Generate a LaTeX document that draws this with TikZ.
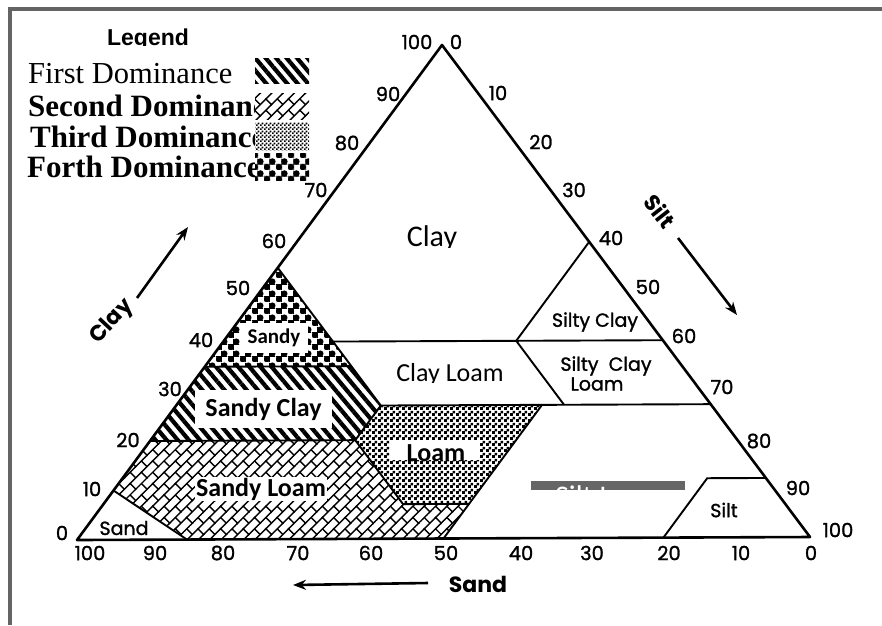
\documentclass[tikz,border=0pt]{standalone}
\usepackage{fontspec}
\setmainfont{Liberation Serif}
\newfontfamily\carlito{Carlito}
\newfontfamily\pop{Poppins}
\newfontfamily\popb{Poppins}[FakeBold=1.3]
\newfontfamily\lsans{Liberation Sans}
\usetikzlibrary{patterns,patterns.meta,arrows.meta}
\definecolor{framegray}{RGB}{100,100,100}
\definecolor{bargray}{RGB}{102,102,102}

\tikzdeclarepattern{
  name=brickpat, type=uncolored,
  bounding box={(-1pt,-1pt) and (17pt,17pt)},
  tile size={(16pt,16pt)},
  tile transformation={rotate=45},
  code={
    \draw[line width=1.4pt] (-1pt,0pt) -- (17pt,0pt);
    \draw[line width=1.4pt] (-1pt,8pt) -- (17pt,8pt);
    \draw[line width=1.4pt] (0pt,0pt) -- (0pt,8pt);
    \draw[line width=1.4pt] (8pt,8pt) -- (8pt,16pt);
  }
}
\tikzdeclarepattern{
  name=checkpat, type=uncolored,
  bounding box={(0pt,0pt) and (6pt,6pt)},
  tile size={(6pt,6pt)},
  code={\fill (0pt,0pt) rectangle (3.2pt,3.2pt); \fill (3pt,3pt) rectangle (6pt,6pt);}
}
\tikzdeclarepattern{
  name=finecheckpat, type=uncolored,
  bounding box={(0pt,0pt) and (4pt,4pt)},
  tile size={(4pt,4pt)},
  code={\fill (0pt,0pt) rectangle (2pt,2pt); \fill (2pt,2pt) rectangle (4pt,4pt);}
}
\tikzdeclarepattern{
  name=dotpat, type=uncolored,
  bounding box={(0pt,0pt) and (12pt,12pt)},
  tile size={(12pt,12pt)},
  code={\fill (3pt,3pt) circle (3.4pt); \fill (9pt,9pt) circle (3.4pt);
        \draw[line width=0.8pt] (0pt,6pt) -- (12pt,6pt);
        \draw[line width=0.8pt] (6pt,0pt) -- (6pt,12pt);}
}

\begin{document}
\begin{tikzpicture}[x=1pt,y=-1pt,
  tri/.style={line width=2.6pt, line join=round},
  bnd/.style={line width=1.9pt, line join=round},
  num/.style={font=\popb\fontsize{19.5}{19.5}\selectfont, inner sep=0pt},
  rlab/.style={font=\popb\fontsize{19}{19}\selectfont, inner sep=0pt, align=center},
  axlab/.style={font=\pop\bfseries\fontsize{22}{22}\selectfont, inner sep=0pt},
  axarrow/.style={line width=2.6pt, -{Stealth[length=13pt,width=10pt]}},
  boxlab/.style={font=\carlito\bfseries\fontsize{26}{26}\selectfont, fill=white, inner sep=0pt},
  modlab/.style={font=\carlito\fontsize{30}{30}\selectfont, inner sep=0pt},
  legtxt/.style={anchor=base west, inner sep=0pt},
  legbox/.style={fill=white, minimum width=54pt, inner sep=0pt}
]
\useasboundingbox (0,0) rectangle (882,625);
\fill[white] (0,0) rectangle (882,625);

% frame
\draw[framegray, line width=3.3pt] (10,625) -- (10,9) -- (882,9);

% corners
\coordinate (L) at (77,540);
\coordinate (R) at (810,537);
\coordinate (T) at (442,45);
% ternary points: L=sand, R=silt, T=clay
\coordinate (scA) at (barycentric cs:L=.45,R=0,T=.55);
\coordinate (scB) at (barycentric cs:L=.65,R=0,T=.35);
\coordinate (scC) at (barycentric cs:L=.45,R=.2,T=.35);
\coordinate (clA) at (barycentric cs:L=.45,R=.15,T=.4);
\coordinate (clB) at (barycentric cs:L=.45,R=.28,T=.27);
\coordinate (lmA) at (barycentric cs:L=.52,R=.28,T=.2);
\coordinate (slA) at (barycentric cs:L=.8,R=0,T=.2);
\coordinate (lmB) at (barycentric cs:L=.52,R=.41,T=.07);
\coordinate (lmC) at (barycentric cs:L=.43,R=.5,T=.07);
\coordinate (lmD) at (barycentric cs:L=.23,R=.5,T=.27);
\coordinate (sl0) at (barycentric cs:L=.5,R=.5,T=0);
\coordinate (sdA) at (barycentric cs:L=.9,R=0,T=.1);
\coordinate (sdB) at (barycentric cs:L=.85,R=.15,T=0);
\coordinate (syA) at (barycentric cs:L=.2,R=.4,T=.4);
\coordinate (syB) at (barycentric cs:L=0,R=.6,T=.4);
\coordinate (syC) at (barycentric cs:L=0,R=.4,T=.6);
\coordinate (sclA) at (barycentric cs:L=.2,R=.53,T=.27);
\coordinate (sclB) at (barycentric cs:L=0,R=.73,T=.27);
\coordinate (siA) at (barycentric cs:L=.2,R=.8,T=0);
\coordinate (siB) at (barycentric cs:L=.08,R=.8,T=.12);
\coordinate (siC) at (barycentric cs:L=0,R=.88,T=.12);

% patterned regions
\path[pattern=dotpat, pattern color=black] (scA) -- (scB) -- (scC) -- cycle;
\path[pattern={Lines[angle=-50,distance=8.5pt,line width=4.2pt]}, pattern color=black]
  (scB) -- (scC) -- (clB) -- (lmA) -- (slA) -- cycle;
\path[pattern=checkpat, pattern color=black]
  (clB) -- (lmD) -- (lmC) -- (lmB) -- (lmA) -- cycle;
\path[pattern=brickpat, pattern color=black]
  (slA) -- (lmA) -- (lmB) -- (lmC) -- (sl0) -- (sdB) -- (sdA) -- cycle;

% boundaries
\draw[bnd] (scA) -- (clB);
\draw[bnd] (scB) -- (scC);
\draw[bnd] (clA) -- (syB);
\draw[bnd] (syC) -- (syA) -- (sclA);
\draw[bnd] (clB) -- (sclB);
\draw[bnd] (clB) -- (lmA) -- (lmB) -- (lmC);
\draw[bnd] (slA) -- (lmA);
\draw[bnd] (lmD) -- (sl0);
\draw[bnd] (sdA) -- (sdB);
\draw[bnd] (siA) -- (siB) -- (siC);
\draw[tri] (L) -- (T) -- (R) -- cycle;

% axis numbers: clay (left)
\foreach \n/\x/\y in {0/62/533,10/92/489,20/128/440,30/170/389,40/201/340,50/238/288,60/274/241,70/316/190,80/347/143,90/388/94,100/417/42}
  \node[num] (cl\n) at (\x,\y) {\n};
% silt (right)
\node[num] (si0) at (456,42) {0};
\foreach \n/\x/\y in {10/498/93,20/541/142,30/574/190,40/611/238,50/648/287,60/684/336,70/722/387,80/759/441,90/798/488,100/838/530}
  \node[num] (si\n) at (\x,\y) {\n};
% sand (bottom)
\foreach \n/\x in {100/90,90/155,80/223,70/298,60/371,50/446,40/521,30/592,20/669,10/741,0/811}
  \node[num] (sa\n) at (\x,553) {\n};

% axis arrows and names
\coordinate (caS) at (137,298); \coordinate (caE) at (188,227);
\draw[axarrow] (caS) -- (caE);
\node[axlab, rotate=47] (clayax) at (112,322) {Clay};
\coordinate (siS) at (678,238); \coordinate (siE) at (737,315);
\draw[axarrow] (siS) -- (siE);
\node[axlab, rotate=-52] (siltax) at (660,211) {Silt};
\coordinate (saS) at (428,583); \coordinate (saE) at (293,585);
\draw[axarrow] (saS) -- (saE);
\node[axlab] (sandax) at (478,584) {Sand};

% scanned region names
\node[rlab] (sandlab) at (124,528) {Sand};
\node[rlab] (siltlab) at (724,510) {Silt};
\node[rlab] (sclab) at (595,322) {Silty Clay};
\node[rlab] (scl1) at (606,366) {Silty\ \ Clay};
\node[rlab] (scl2) at (597,384) {Loam};

% modern labels
\node[boxlab, minimum width=68pt, minimum height=30pt, font=\carlito\bfseries\fontsize{21}{21}\selectfont] (sandybox) at (274,338) {Sandy};
\node[boxlab, minimum width=137pt, minimum height=38pt] (sandyclay) at (263.5,409) {Sandy Clay};
\node[boxlab, inner sep=1pt] (sandyloam) at (261,489) {Sandy Loam};
\node[fill=white, minimum width=90pt, minimum height=20pt, inner sep=0pt] (loambox) at (435,450) {};
\begin{scope}
  \clip (390,440) rectangle (480,460);
  \node[font=\carlito\bfseries\fontsize{26}{26}\selectfont, anchor=base, inner sep=0pt] (loamlab) at (436,461.7) {Loam};
\end{scope}
\begin{scope}
  \clip (380,215) rectangle (490,247);
  \node[modlab, anchor=base] (claylab) at (432,246.5) {Clay};
\end{scope}
\begin{scope}
  \clip (380,355) rectangle (520,382);
  \node[modlab, font=\carlito\fontsize{26}{26}\selectfont, anchor=base] (clayloam) at (450,381.7) {Clay Loam};
\end{scope}
\node[fill=bargray, minimum width=154pt, minimum height=9pt, inner sep=0pt] (siltbar) at (608,485.5) {};
\begin{scope}
  \clip (531,481) rectangle (685,490);
  \node[modlab, text=white, anchor=base west] (siltloam) at (555,506) {Silt Loam};
\end{scope}

% legend
\begin{scope}
  \clip (90,15) rectangle (210,45);
  \node[font=\lsans\bfseries\fontsize{23}{23}\selectfont, anchor=base, inner sep=0pt] (legtitle) at (148,45) {Legend};
\end{scope}
\node[legtxt, font=\fontsize{30.5}{30}\selectfont] (leg1t) at (28,83) {First Dominance};
\node[legtxt, font=\bfseries\fontsize{31}{31}\selectfont] (leg2t) at (28,116) {Second Dominance};
\node[legtxt, font=\bfseries\fontsize{31}{31}\selectfont] (leg3t) at (30,147) {Third Dominance};
\node[legtxt, font=\bfseries\fontsize{31}{31}\selectfont] (leg4t) at (27,177) {Forth Dominance};
\node[legbox, minimum height=25pt, postaction={pattern={Lines[angle=-50,distance=8pt,line width=4.2pt]}, pattern color=black}] (leg1) at (282,70.5) {};
\node[legbox, minimum height=26pt, postaction={pattern=brickpat, pattern color=black}] (leg2) at (282,106) {};
\node[legbox, minimum height=28pt, postaction={pattern=finecheckpat, pattern color=black}] (leg3) at (282,136) {};
\node[legbox, minimum height=27pt, postaction={pattern=dotpat, pattern color=black}] (leg4) at (282,166.5) {};
\end{tikzpicture}
\end{document}
